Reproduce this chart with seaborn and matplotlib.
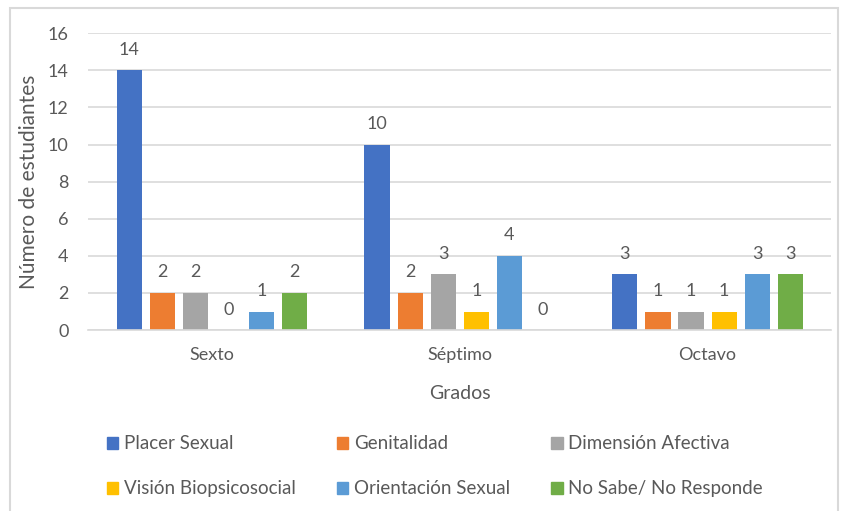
import pandas as pd
import matplotlib.pyplot as plt
import seaborn as sns
from matplotlib.patches import Rectangle

grados = ['Sexto', 'Séptimo', 'Octavo']
categorias = ['Placer Sexual', 'Genitalidad', 'Dimensión Afectiva',
              'Visión Biopsicosocial', 'Orientación Sexual', 'No Sabe/ No Responde']
placer = [14, 10, 3]
genitalidad = [2, 2, 1]
afectiva = [2, 3, 1]
vision = [0, 1, 1]
orientacion = [1, 4, 3]
no_sabe = [2, 0, 3]
colores = ['#4472C4', '#ED7D31', '#A5A5A5', '#FFC000', '#5B9BD5', '#70AD47']

series = [placer, genitalidad, afectiva, vision, orientacion, no_sabe]
rows = []
for cat, vals in zip(categorias, series):
    for g, v in zip(grados, vals):
        rows.append({'Grado': g, 'Categoria': cat, 'Valor': v})
df = pd.DataFrame(rows)

sns.set_style('white')
plt.rcParams['font.family'] = ['Lato', 'DejaVu Sans']
gris = '#595959'

fig = plt.figure(figsize=(8.45, 5.11), dpi=100)
ax = fig.add_axes([0.104, 0.354, 0.880, 0.581])
sns.barplot(data=df, x='Grado', y='Valor', hue='Categoria', hue_order=categorias,
            palette=colores, saturation=1, width=0.8, gap=0.24, linewidth=0,
            ax=ax, legend=False)

for cont in ax.containers:
    ax.bar_label(cont, padding=9, fontsize=13, color=gris)

ax.set_ylim(0, 16)
ax.set_yticks(range(0, 17, 2))
ax.yaxis.grid(True, color='#D9D9D9', linewidth=1.2)
ax.set_axisbelow(True)
for s in ['top', 'right', 'left']:
    ax.spines[s].set_visible(False)
ax.spines['bottom'].set_color('#D9D9D9')
ax.spines['bottom'].set_linewidth(1.2)
ax.tick_params(axis='y', length=0, labelsize=13, colors=gris, pad=14)
ax.tick_params(axis='x', length=0, labelsize=13, colors=gris, pad=12)
ax.set_xlabel('Grados', fontsize=14, color=gris, labelpad=16)
ax.set_ylabel('Número de estudiantes', fontsize=15, color=gris, labelpad=6)

# row-major order for the legend (matplotlib fills by column)
orden = [0, 3, 1, 4, 2, 5]
handles = [Rectangle((0, 0), 1, 1, color=colores[i]) for i in orden]
labels = [categorias[i] for i in orden]
fig.legend(handles, labels, loc='upper left', bbox_to_anchor=(0.118, 0.163),
           ncol=3, frameon=False, fontsize=13.5, labelcolor=gris,
           handlelength=0.6, handleheight=0.6, handletextpad=0.3,
           columnspacing=2.2, labelspacing=1.5, borderaxespad=0)

fig.patches.append(Rectangle((0.012, -0.05), 0.98, 1.035, transform=fig.transFigure,
                             fill=False, edgecolor='#D9D9D9', linewidth=1.5))

fig.savefig('out.png', dpi=100)
